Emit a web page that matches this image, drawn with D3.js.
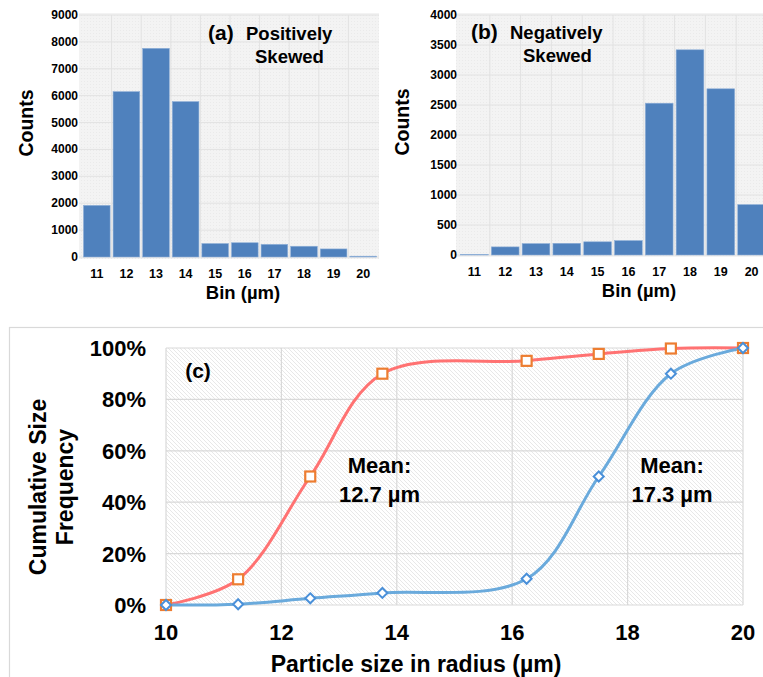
<!DOCTYPE html>
<html>
<head>
<meta charset="utf-8">
<script src="https://cdn.jsdelivr.net/npm/d3@7"></script>
<style>
  body { margin: 0; background: #fff; }
  svg { display: block; font-family: "Liberation Sans", Arial, sans-serif; font-weight: bold; }
</style>
</head>
<body>
<svg id="chart" width="763" height="677"></svg>
<script>
// ---- data ----
const bins = [11, 12, 13, 14, 15, 16, 17, 18, 19, 20];
const countsPositive = [1920, 6150, 7760, 5780, 500, 530, 470, 400, 300, 30];
const countsNegative = [10, 135, 190, 195, 220, 240, 2530, 3420, 2770, 840];
const countTicksA = [0, 1000, 2000, 3000, 4000, 5000, 6000, 7000, 8000, 9000];
const countTicksB = [0, 500, 1000, 1500, 2000, 2500, 3000, 3500, 4000];

const sizes = [10, 11.25, 12.5, 13.75, 16.25, 17.5, 18.75, 20];
const cumPositive = [0, 10, 50, 90, 95, 97.7, 99.8, 100];
const cumNegative = [0, 0.3, 2.6, 4.7, 10.2, 50, 90, 100];
const sizeTicks = [10, 12, 14, 16, 18, 20];
const freqTicks = [0, 20, 40, 60, 80, 100];
const means = [
  { x: 13.7, label: "12.7 µm" },
  { x: 18.77, label: "17.3 µm" }
];

const svg = d3.select("#chart");
const defs = svg.append("defs");

// light textured background for histograms
const tex = defs.append("pattern").attr("id", "tex")
  .attr("width", 3).attr("height", 3).attr("patternUnits", "userSpaceOnUse");
tex.append("rect").attr("width", 3).attr("height", 3).attr("fill", "#f3f3f3");
tex.append("rect").attr("width", 1).attr("height", 1).attr("fill", "#eaeaea");

// diagonal hatch for panel c
const hatch = defs.append("pattern").attr("id", "hatch")
  .attr("width", 4).attr("height", 4).attr("patternUnits", "userSpaceOnUse");
hatch.append("rect").attr("width", 4).attr("height", 4).attr("fill", "#fff");
hatch.append("path").attr("d", "M-1,-1L5,5M-1,3L1,5M3,-1L5,1")
  .attr("stroke", "#dedede").attr("stroke-width", 0.7);

function histogram(g, cfg) {
  const x = d3.scaleBand().domain(cfg.bins).range([cfg.x0, cfg.x1]).paddingInner(0.1).paddingOuter(0.05);
  const y = d3.scaleLinear().domain([0, cfg.ymax]).range([cfg.y0, cfg.y1]);
  const step = x.step();

  g.append("rect")
    .attr("x", cfg.x0 - 3).attr("y", y(cfg.ymax) - 2)
    .attr("width", cfg.x1 - cfg.x0 + 4).attr("height", cfg.y0 - y(cfg.ymax) + 4)
    .attr("fill", "url(#tex)");

  g.append("g").selectAll("line").data(cfg.ticks).join("line")
    .attr("x1", cfg.x0 - 3).attr("x2", cfg.x1 + 1)
    .attr("y1", d => y(d)).attr("y2", d => y(d))
    .attr("stroke", "#e2e2e2");
  g.append("g").selectAll("line").data(cfg.bins.slice(1)).join("line")
    .attr("x1", d => x(d) - step * 0.05).attr("x2", d => x(d) - step * 0.05)
    .attr("y1", y(cfg.ymax)).attr("y2", cfg.y0)
    .attr("stroke", "#e2e2e2");

  g.append("g").selectAll("rect").data(cfg.bins).join("rect")
    .attr("x", d => x(d))
    .attr("width", x.bandwidth())
    .attr("y", (d, i) => y(cfg.values[i]))
    .attr("height", (d, i) => cfg.y0 - y(cfg.values[i]))
    .attr("fill", "#4f81bd")
    .attr("stroke", "#8fb0d8").attr("stroke-width", 0.6);

  g.append("g").selectAll("text").data(cfg.ticks).join("text")
    .attr("x", cfg.labelX).attr("y", d => y(d) + 4)
    .attr("text-anchor", "end").attr("font-size", 12)
    .text(d => d);

  g.append("g").selectAll("text").data(cfg.bins).join("text")
    .attr("x", d => x(d) + x.bandwidth() / 2).attr("y", cfg.tickY)
    .attr("text-anchor", "middle").attr("font-size", 12.5)
    .text(d => d);

  g.append("text")
    .attr("x", cfg.xTitleX).attr("y", cfg.xTitleY)
    .attr("text-anchor", "middle").attr("font-size", 18.5)
    .text("Bin (µm)");

  g.append("text")
    .attr("transform", `translate(${cfg.yTitleX},${(cfg.y0 + y(cfg.ymax)) / 2 - 13}) rotate(-90)`)
    .attr("text-anchor", "middle").attr("font-size", 19.5)
    .text("Counts");

  const t = g.append("text").attr("font-size", 18.5);
  t.append("tspan").attr("x", cfg.tagX).attr("y", cfg.tagY).attr("font-size", 21).text(cfg.tag);
  t.append("tspan").attr("x", cfg.word1X).attr("y", cfg.tagY).text(cfg.word1);
  g.append("text").attr("font-size", 18.5)
    .attr("x", cfg.word2X).attr("y", cfg.tagY + 23).text("Skewed");
}

histogram(svg.append("g"), {
  bins, values: countsPositive, ymax: 9000, ticks: countTicksA,
  x0: 82, x1: 378, y0: 257, y1: 15, labelX: 78, tickY: 278,
  xTitleX: 243, xTitleY: 299, yTitleX: 33,
  tag: "(a)", word1: "Positively", tagX: 208, word1X: 246, word2X: 255, tagY: 40
});

histogram(svg.append("g"), {
  bins, values: countsNegative, ymax: 4000, ticks: countTicksB,
  x0: 459, x1: 767, y0: 255, y1: 15, labelX: 457, tickY: 276,
  xTitleX: 639, xTitleY: 297, yTitleX: 409,
  tag: "(b)", word1: "Negatively", tagX: 471, word1X: 510, word2X: 523, tagY: 39
});

// ---- panel (c) ----
const gc = svg.append("g");
gc.append("rect").attr("x", 9.5).attr("y", 327.5).attr("width", 770).attr("height", 400)
  .attr("fill", "none").attr("stroke", "#d9d9d9").attr("stroke-width", 1.2);

const xc = d3.scaleLinear().domain([10, 20]).range([166, 743]);
const yc = d3.scaleLinear().domain([0, 100]).range([605, 348]);

gc.append("rect").attr("x", xc(10)).attr("y", yc(100))
  .attr("width", xc(20) - xc(10)).attr("height", yc(0) - yc(100))
  .attr("fill", "url(#hatch)");

gc.append("g").selectAll("line").data(freqTicks).join("line")
  .attr("x1", xc(10)).attr("x2", xc(20))
  .attr("y1", d => yc(d)).attr("y2", d => yc(d))
  .attr("stroke", "#d9d9d9").attr("stroke-width", 1.2);
gc.append("g").selectAll("line").data(sizeTicks).join("line")
  .attr("x1", d => xc(d)).attr("x2", d => xc(d))
  .attr("y1", yc(100)).attr("y2", yc(0))
  .attr("stroke", "#d9d9d9").attr("stroke-width", 1.2);

gc.append("g").selectAll("text").data(freqTicks).join("text")
  .attr("x", 146).attr("y", d => yc(d) + 8)
  .attr("text-anchor", "end").attr("font-size", 22)
  .text(d => d + "%");
gc.append("g").selectAll("text").data(sizeTicks).join("text")
  .attr("x", d => xc(d)).attr("y", 640)
  .attr("text-anchor", "middle").attr("font-size", 22)
  .text(d => d);

gc.append("text").attr("x", 416).attr("y", 672)
  .attr("text-anchor", "middle").attr("font-size", 23)
  .text("Particle size in radius (µm)");
gc.append("text").attr("transform", "translate(46,487) rotate(-90)")
  .attr("text-anchor", "middle").attr("font-size", 23).text("Cumulative Size");
gc.append("text").attr("transform", "translate(73,487) rotate(-90)")
  .attr("text-anchor", "middle").attr("font-size", 23).text("Frequency");

gc.append("text").attr("x", 198).attr("y", 378)
  .attr("text-anchor", "middle").attr("font-size", 21).text("(c)");

means.forEach(m => {
  gc.append("text").attr("x", xc(m.x)).attr("y", 473)
    .attr("text-anchor", "middle").attr("font-size", 22).text("Mean:");
  gc.append("text").attr("x", xc(m.x)).attr("y", 502)
    .attr("text-anchor", "middle").attr("font-size", 22).text(m.label);
});

const line = d3.line()
  .x((d, i) => xc(sizes[i]))
  .y(d => yc(d))
  .curve(d3.curveCatmullRom.alpha(0.5));

gc.append("path").datum(cumPositive).attr("d", line)
  .attr("fill", "none").attr("stroke", "#ff7272").attr("stroke-width", 3);
gc.append("path").datum(cumNegative).attr("d", line)
  .attr("fill", "none").attr("stroke", "#6aaadc").attr("stroke-width", 3);

gc.append("g").selectAll("rect").data(cumPositive).join("rect")
  .attr("x", (d, i) => xc(sizes[i]) - 5).attr("y", d => yc(d) - 5)
  .attr("width", 10).attr("height", 10)
  .attr("fill", "#fff").attr("stroke", "#ed7d31").attr("stroke-width", 2.2);

gc.append("g").selectAll("path").data(cumNegative).join("path")
  .attr("transform", (d, i) => `translate(${xc(sizes[i])},${yc(d)})`)
  .attr("d", "M0,-5L5,0L0,5L-5,0Z")
  .attr("fill", "#fff").attr("stroke", "#4a90d9").attr("stroke-width", 2);
</script>
</body>
</html>
